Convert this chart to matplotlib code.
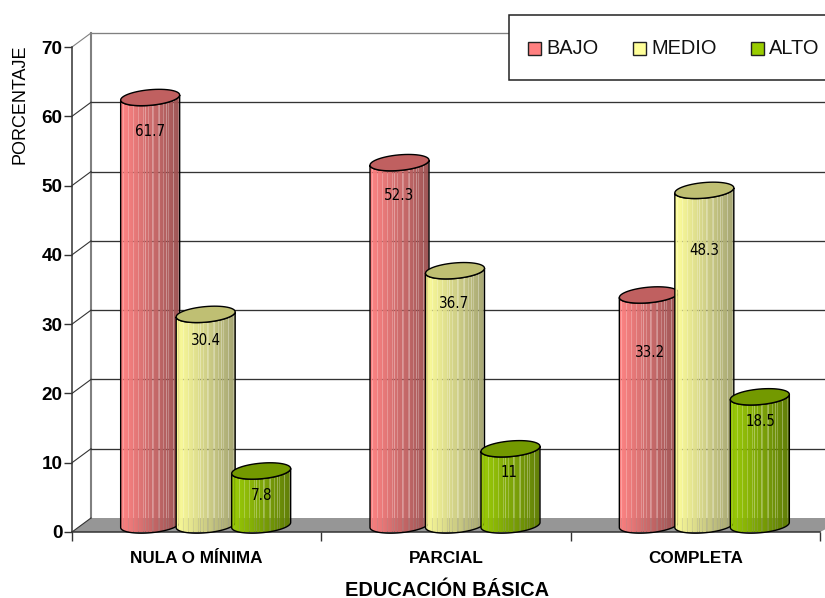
# Cilindros 3D: educacion basica vs nivel

import numpy as np
import matplotlib
matplotlib.use('Agg')
import matplotlib.pyplot as plt
from matplotlib.patches import Polygon, Rectangle
from matplotlib.path import Path

categories = ['NULA O MÍNIMA', 'PARCIAL', 'COMPLETA']
series_names = ['BAJO', 'MEDIO', 'ALTO']
bajo = [61.7, 52.3, 33.2]
medio = [30.4, 36.7, 48.3]
alto = [7.8, 11, 18.5]
y_ticks = [0, 10, 20, 30, 40, 50, 60, 70]

plt.rcParams['font.family'] = ['Liberation Sans', 'DejaVu Sans']

# colores: claro (izq), oscuro (der), tapa
colors = [('#FF8080', '#995050', '#C06060'),
          ('#FFFF99', '#A3A370', '#BFBF73'),
          ('#99CC00', '#5C7A00', '#739900')]

W, H = 825, 598
fig = plt.figure(figsize=(W/100, H/100), dpi=100)
ax = fig.add_axes([72/W, 1-532/H, 748/W, 485/H])
ax.set_xlim(0, 3)
ax.set_ylim(0, 70)
ax.patch.set_visible(False)

PX = 3/748   # categoria por pixel
PY = 70/485  # porcentaje por pixel
DX, DY = 19*PX, 14*PY

# piso y paredes
ax.add_patch(Polygon([(0, 0), (DX, DY), (3.03, DY), (3.03, 0.55), (3, 0)], closed=True,
                     fc='#969696', ec='none', zorder=1, clip_on=False))
ax.plot([DX, DX], [DY, 70+DY], color='#808080', lw=1.5, zorder=2, clip_on=False)
for v in y_ticks:
    c = '#808080' if v == 70 else '#333333'
    if v > 0:
        ax.plot([DX, 3.03], [v+DY, v+DY], color=c, lw=0.95, zorder=2, clip_on=False)
    ax.plot([0, DX], [v, v+DY], color=c, lw=0.8, zorder=2, clip_on=False)

# ejes
for s in ['top', 'right']:
    ax.spines[s].set_visible(False)
for s in ['left', 'bottom']:
    ax.spines[s].set_color('#333333')
    ax.spines[s].set_linewidth(1.1)
    ax.spines[s].set_zorder(3)
ax.set_yticks(y_ticks)
ax.set_yticklabels([str(v) for v in y_ticks], fontsize=13.6, fontweight='bold')
ax.tick_params(axis='y', length=5.8, width=1, color='#333333', pad=1)
ax.set_xticks([0, 1, 2, 3])
ax.set_xticklabels([])
ax.tick_params(axis='x', length=6.5, width=1, color='#333333')
ax.set_xticks([0.5, 1.5, 2.5], minor=True)
ax.set_xticklabels(categories, minor=True, fontsize=12.3, fontweight='bold')
ax.tick_params(axis='x', which='minor', length=0, pad=13.5)


def hex2rgb(h):
    return np.array(matplotlib.colors.to_rgb(h))


def cylinder(cx, value, cols, z):
    t = np.linspace(0, np.pi, 60)
    rx, ry, shear = 29.5, 7.8, 0.085
    base = 7*PY
    top = value + base

    def arc(y0, tt):
        ex = rx*np.cos(tt)
        ey = ry*np.sin(tt) + shear*ex
        return cx + ex*PX, y0 + ey*PY

    # cuerpo
    xb, yb = arc(base, np.pi + t)
    xt, yt = arc(top, 2*np.pi - t)
    verts = np.vstack([np.c_[xb, yb], np.c_[xt, yt]])
    body = Polygon(verts, closed=True, fc='none', ec='black', lw=1.0, zorder=z+0.2, clip_on=False)
    # degradado con rayas semitransparentes
    n = 59
    f = np.linspace(0, 1, n)[:, None]
    rgb = hex2rgb(cols[0])*(1-f) + hex2rgb(cols[1])*f
    alpha = np.ones(n)*0.97
    alpha[(np.arange(n) % 5 == 2)] = 0.74
    alpha[(np.arange(n) % 7 == 3) & (np.arange(n) > 20)] = 0.66
    img = np.dstack([rgb[None, :, 0], rgb[None, :, 1], rgb[None, :, 2], alpha[None, :]])
    im = ax.imshow(img, extent=[cx-rx*PX, cx+rx*PX, 0, top+3], aspect='auto',
                   interpolation='nearest', zorder=z, clip_on=True)
    im.set_clip_path(Path(verts), ax.transData)
    ax.add_patch(body)
    # tapa
    xa, ya = arc(top, 2*t)
    ax.add_patch(Polygon(np.c_[xa, ya], closed=True, fc=cols[2], ec='black', lw=1.0,
                         zorder=z+0.3, clip_on=False))


# caida de cada etiqueta respecto a la tapa (pixeles)
label_drop = [[34, 26, 25], [33, 33, 24], [58, 60, 25]]
label_dx = [[0, 0, 0], [0, -1, -1], [1, 0, 1]]
series = [bajo, medio, alto]
for i in range(len(categories)):
    for j, vals in enumerate(series):
        cx = i + 0.5 + (j-1)*55.5*PX + 9*PX
        cylinder(cx, vals[i], colors[j], 5 + j)
        ax.text(cx + label_dx[i][j]*PX, vals[i] + (7 - label_drop[i][j])*PY, f'{vals[i]:g}',
                ha='center', va='center', fontsize=10.8, color='black', zorder=9,
                family='DejaVu Sans', stretch='condensed')

ax.set_xlim(0, 3)
ax.set_ylim(0, 70)

# titulos de ejes
fig.text(447/W, 1-590/H, 'EDUCACIÓN BÁSICA', ha='center', va='center', fontsize=14.4, fontweight='bold')
fig.text(20/W, 1-104/H, 'PORCENTAJE', ha='center', va='center', rotation=90, fontsize=13)

# leyenda
fig.add_artist(Rectangle((509/W, 1-80/H), 330/W, 65/H, transform=fig.transFigure,
                         fc='white', ec='#222222', lw=1.1, zorder=10))
leg_x = [528, 633, 751]
for x0, name, cols in zip(leg_x, series_names, colors):
    fig.add_artist(Rectangle((x0/W, 1-55/H), 13/W, 13/H, transform=fig.transFigure,
                             fc=cols[0], ec='#222222', lw=1, zorder=11))
    t = fig.text((x0+18)/W, 1-49/H, name, ha='left', va='center', fontsize=14.4, color='#111111')
    t.set_zorder(11)

fig.savefig('out.png', dpi=100)
